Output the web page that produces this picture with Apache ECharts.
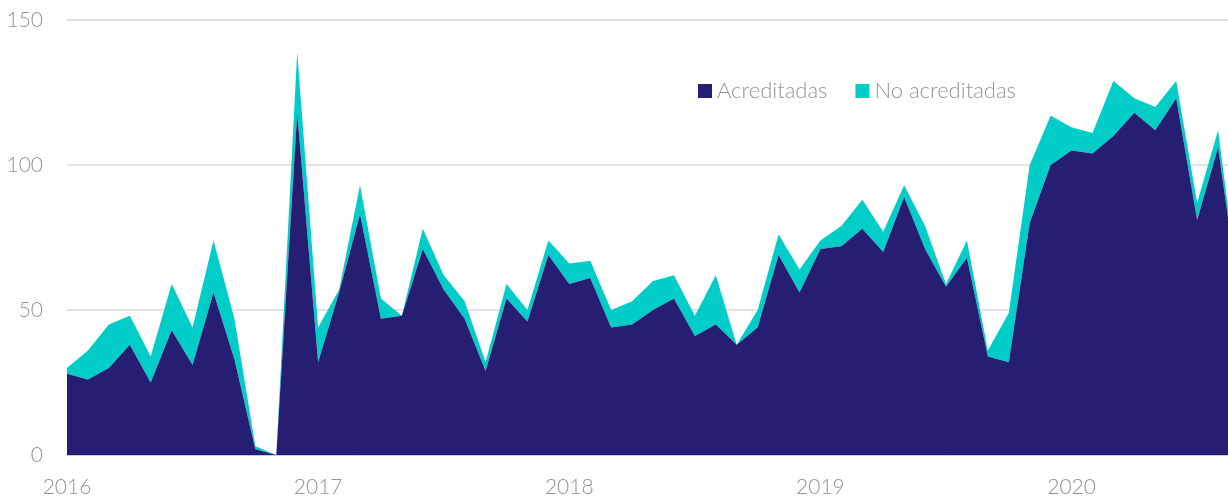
<!DOCTYPE html>
<html>
<head>
<meta charset="utf-8">
<script src="https://cdn.jsdelivr.net/npm/echarts@6/dist/echarts.min.js"></script>
<style>
  html, body { margin: 0; padding: 0; background: #fff; overflow: hidden; }
  /* la serie continúa más allá del borde derecho: lienzo algo más ancho que la ventana */
  #main { width: 1239px; height: 499px; }
</style>
</head>
<body>
<div id="main"></div>
<script>
// meses (2016-01 .. 2020-09)
var months = [
  '2016-01','2016-02','2016-03','2016-04','2016-05','2016-06','2016-07','2016-08','2016-09','2016-10','2016-11','2016-12',
  '2017-01','2017-02','2017-03','2017-04','2017-05','2017-06','2017-07','2017-08','2017-09','2017-10','2017-11','2017-12',
  '2018-01','2018-02','2018-03','2018-04','2018-05','2018-06','2018-07','2018-08','2018-09','2018-10','2018-11','2018-12',
  '2019-01','2019-02','2019-03','2019-04','2019-05','2019-06','2019-07','2019-08','2019-09','2019-10','2019-11','2019-12',
  '2020-01','2020-02','2020-03','2020-04','2020-05','2020-06','2020-07','2020-08','2020-09'
];

var acreditadas = [
  28, 26, 30, 38, 25, 43, 31, 56, 33, 2, 0, 118,
  32, 56, 83, 47, 48, 71, 57, 47, 29, 54, 46, 69,
  59, 61, 44, 45, 50, 54, 41, 45, 38, 44, 69, 56,
  71, 72, 78, 70, 89, 71, 58, 68, 34, 32, 80, 100,
  105, 104, 110, 118, 112, 123, 81, 106, 55
];

var noAcreditadas = [
  2, 10, 15, 10, 9, 16, 13, 18, 14, 1, 0, 21,
  12, 1, 10, 7, 0, 7, 5, 6, 3, 5, 4, 5,
  7, 6, 6, 8, 10, 8, 7, 17, 0, 6, 7, 8,
  3, 7, 10, 7, 4, 8, 1, 6, 2, 17, 20, 17,
  8, 7, 19, 5, 8, 6, 6, 6, 1
];

var yTicks = { min: 0, max: 150, interval: 50 };

var fontFam = 'Lato, "Open Sans", sans-serif';
var textGray = '#939393';

var chart = echarts.init(document.getElementById('main'), null, { renderer: 'canvas' });

var option = {
  animation: false,
  backgroundColor: '#ffffff',
  textStyle: { fontFamily: fontFam, fontWeight: 300 },
  legend: {
    left: 698,
    top: 80,
    padding: 0,
    icon: 'rect',
    itemWidth: 14,
    itemHeight: 14,
    itemGap: 28,
    textStyle: { color: textGray, fontSize: 22, fontFamily: fontFam, fontWeight: 300 },
    data: ['Acreditadas', 'No acreditadas']
  },
  grid: {
    left: 67,
    right: 0,
    top: 20,
    bottom: 44,
    containLabel: false
  },
  xAxis: {
    type: 'category',
    boundaryGap: false,
    data: months,
    axisLine: { show: true, lineStyle: { color: '#c9c9d6', width: 1 } },
    axisTick: { show: false },
    axisLabel: {
      interval: 11,
      margin: 22,
      color: textGray,
      fontSize: 21,
      fontFamily: fontFam,
      fontWeight: 300,
      formatter: function (v) { return v.slice(0, 4); }
    },
    splitLine: { show: false }
  },
  yAxis: {
    type: 'value',
    min: yTicks.min,
    max: yTicks.max,
    interval: yTicks.interval,
    axisLine: { show: false },
    axisTick: { show: false },
    axisLabel: {
      margin: 24,
      color: textGray,
      fontSize: 21,
      fontFamily: fontFam,
      fontWeight: 300
    },
    splitLine: { show: true, lineStyle: { color: '#dadada', width: 1.5 } }
  },
  series: [
    {
      name: 'Acreditadas',
      type: 'line',
      stack: 'total',
      data: acreditadas,
      showSymbol: false,
      symbol: 'none',
      lineStyle: { width: 0 },
      itemStyle: { color: '#261e73' },
      areaStyle: { color: '#261e73', opacity: 1 },
      z: 3
    },
    {
      name: 'No acreditadas',
      type: 'line',
      stack: 'total',
      data: noAcreditadas,
      showSymbol: false,
      symbol: 'none',
      lineStyle: { width: 0 },
      itemStyle: { color: '#00ccc8' },
      areaStyle: { color: '#00ccc8', opacity: 1 },
      z: 2
    }
  ]
};

chart.setOption(option);
</script>
</body>
</html>
